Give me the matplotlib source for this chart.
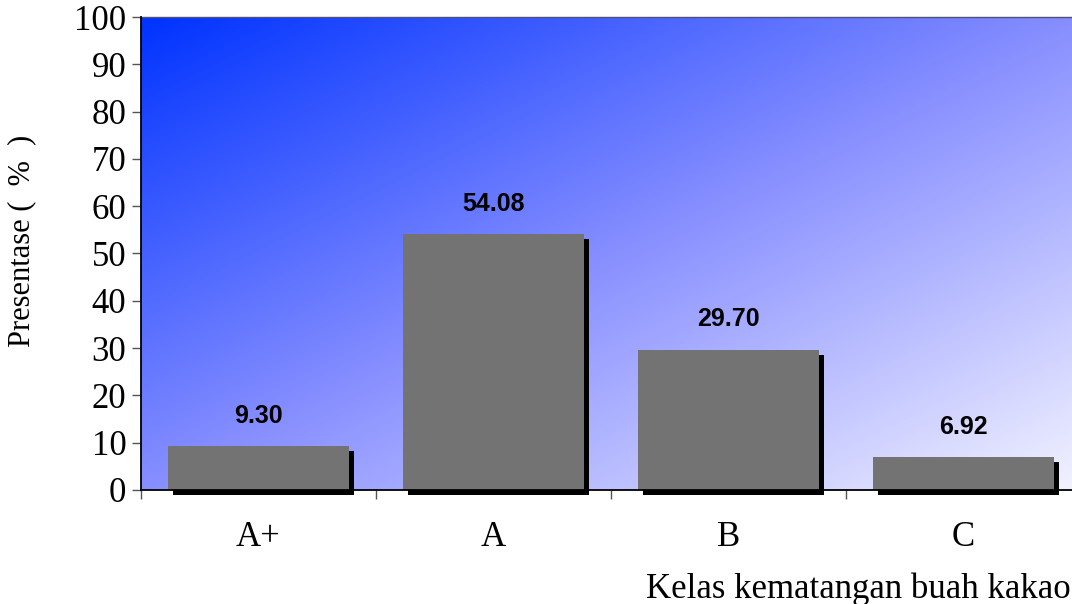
import numpy as np
import matplotlib
matplotlib.use('Agg')
import matplotlib.pyplot as plt
import matplotlib.patheffects as pe
from matplotlib.colors import LinearSegmentedColormap

categories = ['A+', 'A', 'B', 'C']
values = [9.30, 54.08, 29.70, 6.92]
y_ticks = [0, 10, 20, 30, 40, 50, 60, 70, 80, 90, 100]

serif = ['Liberation Serif', 'DejaVu Serif']
sans = ['Liberation Sans', 'DejaVu Sans']

fig = plt.figure(figsize=(10.72, 6.04), dpi=100)
ax = fig.add_axes([141 / 1072, 114 / 604, 940 / 1072, 473 / 604])

# diagonal blue-to-white background
cmap = LinearSegmentedColormap.from_list('bg', [(0.0, 0.20, 1.0), (0.53, 0.56, 1.0), (0.95, 0.95, 1.0)])
gx, gy = np.meshgrid(np.linspace(0, 1, 300), np.linspace(0, 1, 300))
grad = (gx + gy) / 2
ax.imshow(grad, cmap=cmap, extent=[0, 1, 0, 1], transform=ax.transAxes,
          aspect='auto', origin='upper', zorder=0, interpolation='bilinear')

x = np.arange(len(categories))
bars = ax.bar(x, values, width=0.77, color='#737373', zorder=2, clip_on=False)
for b in bars:
    b.set_path_effects([pe.SimplePatchShadow(offset=(3.6, -3.6), shadow_rgbFace='black', alpha=1.0),
                        pe.Normal()])

for xi, v in zip(x, values):
    ax.annotate(f'{v:.2f}', (xi, v), xytext=(0, 13), textcoords='offset points',
                ha='center', va='bottom', fontsize=18, fontweight='bold',
                family=sans, color='black', zorder=3)

ax.set_xlim(-0.5, len(categories) - 0.5)
ax.set_ylim(0, 100)
ax.set_yticks(y_ticks)
ax.set_yticklabels([str(t) for t in y_ticks], fontsize=25, family=serif)
ax.tick_params(axis='y', length=6.5, width=1, color='#555555', pad=4)

ax.set_xticks(x)
ax.set_xticklabels(categories, fontsize=25, family=serif)
ax.set_xticks(np.arange(len(categories) + 1) - 0.5, minor=True)
ax.tick_params(axis='x', which='major', length=0, pad=22)
ax.tick_params(axis='x', which='minor', length=6.5, width=1, color='#555555')

ax.set_ylabel('Presentase (  %  )', fontsize=22, family=serif)
ax.yaxis.set_label_coords(-0.111, 0.526)
fig.text(0.999, 6 / 604, 'Kelas kematangan buah kakao', ha='right', va='baseline',
         fontsize=25, family=serif)

for s in ['left', 'bottom']:
    ax.spines[s].set_color('black')
    ax.spines[s].set_linewidth(1.3)
    ax.spines[s].set_zorder(4)
ax.spines['top'].set_color('#50507a')
ax.spines['top'].set_linewidth(1.0)
ax.spines['right'].set_visible(False)

fig.savefig('out.png', dpi=100, facecolor='white')
